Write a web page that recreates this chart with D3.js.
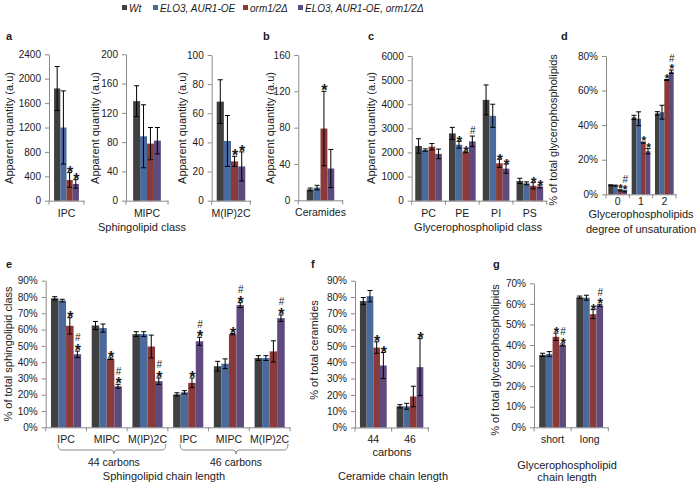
<!DOCTYPE html>
<html><head><meta charset="utf-8">
<script src="https://cdn.jsdelivr.net/npm/d3@7"></script>
<style>
body{margin:0;background:#fff}
svg{display:block}
text{font-family:Arial,"Liberation Sans",sans-serif;fill:#1a1a1a}
</style>
</head><body>
<svg id="chart" width="700" height="488"></svg>
<script>
// ---------- series ----------
const seriesNames = ["Wt", "ELO3, AUR1-OE", "orm1/2Δ", "ELO3, AUR1-OE, orm1/2Δ"];
const seriesColors = ["#404040", "#4a6a9c", "#8b3a3a", "#5e4a7c"];

// ---------- panel a : IPC ----------
const aIpcCategories = ["IPC"];
const aIpcValues = [[1840], [1200], [340], [275]];
const aIpcErrors = [[360], [600], [120], [70]];
const aIpcMarks = [[""], [""], ["*"], ["*"]];
const aIpcTicks = [0, 400, 800, 1200, 1600, 2000, 2400];

// ---------- panel a : MIPC ----------
const aMipcCategories = ["MIPC"];
const aMipcValues = [[136], [88], [78], [82]];
const aMipcErrors = [[21], [43], [22], [18]];
const aMipcMarks = [[""], [""], [""], [""]];
const aMipcTicks = [0, 40, 80, 120, 160, 200];

// ---------- panel a : M(IP)2C ----------
const aMip2cCategories = ["M(IP)2C"];
const aMip2cValues = [[68], [41], [27], [23.5]];
const aMip2cErrors = [[15], [17.5], [3.5], [10]];
const aMip2cMarks = [[""], [""], ["*"], ["*"]];
const aMip2cTicks = [0, 20, 40, 60, 80, 100];

// ---------- panel b : ceramides ----------
const bCategories = ["Ceramides"];
const bValues = [[12], [14], [79], [35]];
const bErrors = [[1.5], [2.5], [41], [21]];
const bMarks = [[""], [""], ["*"], [""]];
const bTicks = [0, 40, 80, 120, 160];

// ---------- panel c : glycerophospholipid class ----------
const cCategories = ["PC", "PE", "PI", "PS"];
const cValues = [[2270, 2790, 4180, 820], [2100, 2320, 3520, 720], [2240, 2010, 1550, 620], [1940, 2460, 1330, 590]];
const cErrors = [[300, 250, 620, 110], [50, 140, 480, 60], [130, 20, 170, 130], [200, 220, 190, 60]];
const cMarks = [["", "", "", ""], ["", "*", "", ""], ["", "*", "*", "*"], ["", "#", "*", "*"]];
const cTicks = [0, 1000, 2000, 3000, 4000, 5000, 6000];

// ---------- panel d : degree of unsaturation (%) ----------
const dCategories = ["0", "1", "2"];
const dValues = [[5.2, 44.5, 46.8], [5.0, 43.7, 47.5], [2.3, 29.9, 66.1], [1.7, 24.9, 70.9]];
const dErrors = [[0.3, 1.2, 1.0], [0.3, 4.0, 4.0], [0.3, 0.3, 0.3], [0.3, 1.5, 1.0]];
const dMarks = [["", "", ""], ["", "", ""], ["*", "*", "*"], ["*#", "*", "*#"]];
const dTicks = [0, 20, 40, 60, 80];

// ---------- panel e : sphingolipid chain length (%) ----------
const eCategories = ["IPC", "MIPC", "M(IP)2C", "IPC ", "MIPC ", "M(IP)2C "];
const eGroups = ["44 carbons", "46 carbons"];
const eValues = [
  [79.2, 62.5, 57.2, 20.2, 37.5, 42.5],
  [77.8, 60.9, 57.2, 21.5, 39.0, 42.5],
  [62.3, 42.1, 49.6, 27.3, 57.2, 46.6],
  [44.8, 25.2, 28.3, 52.8, 75.0, 67.0]];
const eErrors = [
  [1.0, 2.5, 1.5, 1.0, 3.0, 1.5],
  [0.8, 2.5, 1.5, 1.0, 3.0, 1.5],
  [5.0, 0.5, 7.0, 3.0, 0.4, 6.5],
  [2.0, 1.2, 2.0, 2.5, 1.5, 2.0]];
const eMarks = [
  ["", "", "", "", "", ""],
  ["", "", "", "", "", ""],
  ["*", "*", "", "*", "*", ""],
  ["*#", "*#", "*#", "*#", "*#", "*#"]];
const eTicks = [0, 10, 20, 30, 40, 50, 60, 70, 80, 90];

// ---------- panel f : ceramide chain length (%) ----------
const fCategories = ["44", "46"];
const fValues = [[77.5, 13.0], [80.5, 13.0], [49.0, 19.0], [38.0, 37.0]];
const fErrors = [[2.2, 1.0], [3.5, 1.8], [3.5, 6.3], [8.0, 17.5]];
const fMarks = [["", ""], ["", ""], ["*", ""], ["*", "*"]];
const fTicks = [0, 10, 20, 30, 40, 50, 60, 70, 80, 90];

// ---------- panel g : glycerophospholipid chain length (%) ----------
const gCategories = ["short", "long"];
const gValues = [[35.2, 63.2], [35.6, 63.0], [44.0, 55.0], [40.0, 59.3]];
const gErrors = [[0.8, 0.6], [1.2, 1.2], [1.8, 2.2], [0.5, 0.5]];
const gMarks = [["", ""], ["", ""], ["*", "*"], ["*#", "*#"]];
const gTicks = [0, 10, 20, 30, 40, 50, 60, 70];

// ================= drawing =================
const svg = d3.select("#chart");
const AX = "#8a8a8a";
const pct = d => d + "%";

function styleAxis(sel) {
  sel.select(".domain").attr("stroke", AX);
  sel.selectAll(".tick line").attr("stroke", AX);
  sel.selectAll(".tick text").style("font-size", "10px").attr("fill", "#1a1a1a");
}

function panel(o) {
  const g = svg.append("g");
  const n = o.cats.length;
  const starSize = o.star || 16;
  const x = d3.scaleBand().domain(o.cats).range([o.x0, o.x1]).paddingInner(o.pad).paddingOuter(o.pad / 2);
  const xs = d3.scaleBand().domain(d3.range(o.values.length)).range([0, x.bandwidth()]);
  const y = d3.scaleLinear().domain([0, o.ticks[o.ticks.length - 1]]).range([o.yBot, o.yTop]);

  const ya = g.append("g").attr("transform", `translate(${o.x0},0)`)
    .call(d3.axisLeft(y).tickValues(o.ticks).tickSize(4).tickSizeOuter(0).tickPadding(4).tickFormat(o.fmt || (d => d)));
  styleAxis(ya);

  const xa = g.append("g").attr("transform", `translate(0,${o.yBot})`)
    .call(d3.axisBottom(x).tickSize(0).tickSizeOuter(0).tickPadding(o.labPad).tickFormat(d => d.trim()));
  styleAxis(xa);
  xa.selectAll(".tick text").style("font-size", "10.5px");
  const step = (o.x1 - o.x0) / n;
  g.append("g").selectAll("line").data(d3.range(n + 1)).join("line")
    .attr("x1", i => o.x0 + i * step).attr("x2", i => o.x0 + i * step)
    .attr("y1", o.yBot).attr("y2", o.yBot + 4).attr("stroke", AX);

  o.values.forEach((ser, s) => {
    const sg = g.append("g");
    sg.selectAll("rect").data(o.cats).join("rect")
      .attr("x", (c) => x(c) + xs(s))
      .attr("width", xs.bandwidth())
      .attr("y", (c, i) => y(ser[i]))
      .attr("height", (c, i) => o.yBot - y(ser[i]))
      .attr("fill", seriesColors[s]);
  });
  o.values.forEach((ser, s) => {
    const eg = g.append("g").attr("stroke", "#000").attr("stroke-width", 1);
    o.cats.forEach((c, i) => {
      const cx = x(c) + xs(s) + xs.bandwidth() / 2;
      const hi = y(ser[i] + o.errors[s][i]);
      const lo = y(Math.max(0, ser[i] - o.errors[s][i]));
      eg.append("line").attr("x1", cx).attr("x2", cx).attr("y1", hi).attr("y2", lo);
      eg.append("line").attr("x1", cx - 2.5).attr("x2", cx + 2.5).attr("y1", hi).attr("y2", hi);
      eg.append("line").attr("x1", cx - 2.5).attr("x2", cx + 2.5).attr("y1", lo).attr("y2", lo);
      const m = o.marks[s][i];
      if (m) {
        let top = hi - 2;
        if (m.includes("*")) {
          g.append("text").attr("x", cx + 0.5).attr("y", top + starSize * 0.44).attr("text-anchor", "middle")
            .style("font-size", starSize + "px").style("font-weight", "bold").text("*");
          top -= starSize * 0.48;
        }
        if (m.includes("#")) {
          g.append("text").attr("x", cx + 0.5).attr("y", top).attr("text-anchor", "middle")
            .style("font-size", "10px").text("#");
        }
      }
    });
  });

  if (o.yTitle) {
    g.append("text").attr("transform", `translate(${o.yTitleX},${o.yTitleY}) rotate(-90)`)
      .attr("text-anchor", "middle").attr("dy", "0.35em").style("font-size", "11px").text(o.yTitle);
  }
  return { x, y, step };
}

// panel letters
[["a", 6, 40], ["b", 263, 40], ["c", 368, 40], ["d", 561, 40], ["e", 6, 268], ["f", 311, 268], ["g", 493, 268]]
  .forEach(([t, px, py]) => svg.append("text").attr("x", px).attr("y", py).style("font-size", "11px").style("font-weight", "bold").text(t));

// legend
const legX = [122, 153, 243, 298];
seriesNames.forEach((s, i) => {
  svg.append("rect").attr("x", legX[i]).attr("y", 5).attr("width", 5).attr("height", 5).attr("fill", seriesColors[i]);
  svg.append("text").attr("x", legX[i] + 7).attr("y", 11.5).style("font-size", "10px").style("font-style", "italic").text(s);
});

const YT = "Apparent quantity (a.u)";
panel({ cats: aIpcCategories, values: aIpcValues, errors: aIpcErrors, marks: aIpcMarks, ticks: aIpcTicks,
  x0: 49, x1: 84, yTop: 54.3, yBot: 200.7, pad: 0.29, labPad: 8.5, yTitle: YT, yTitleX: 9, yTitleY: 128 });
panel({ cats: aMipcCategories, values: aMipcValues, errors: aMipcErrors, marks: aMipcMarks, ticks: aMipcTicks,
  x0: 126, x1: 168, yTop: 54.3, yBot: 200.7, pad: 0.34, labPad: 8.5, yTitle: YT, yTitleX: 95, yTitleY: 128 });
panel({ cats: aMip2cCategories, values: aMip2cValues, errors: aMip2cErrors, marks: aMip2cMarks, ticks: aMip2cTicks,
  x0: 211.7, x1: 250.3, yTop: 55, yBot: 200.7, pad: 0.26, labPad: 8.5, yTitle: YT, yTitleX: 182, yTitleY: 128 });
panel({ cats: bCategories, values: bValues, errors: bErrors, marks: bMarks, ticks: bTicks,
  x0: 298.3, x1: 342.7, yTop: 55, yBot: 200.3, pad: 0.38, labPad: 8.5, yTitle: YT, yTitleX: 270, yTitleY: 128 });
panel({ cats: cCategories, values: cValues, errors: cErrors, marks: cMarks, ticks: cTicks, star: 15,
  x0: 411.7, x1: 546.7, yTop: 56, yBot: 200.7, pad: 0.21, labPad: 8.5, yTitle: YT, yTitleX: 371, yTitleY: 128 });
panel({ cats: dCategories, values: dValues, errors: dErrors, marks: dMarks, ticks: dTicks, fmt: pct, star: 12,
  x0: 606, x1: 676, yTop: 56, yBot: 194.3, pad: 0.2, labPad: 3, yTitle: "% of total glycerophospholipids", yTitleX: 553, yTitleY: 130 });
const E = panel({ cats: eCategories, values: eValues, errors: eErrors, marks: eMarks, ticks: eTicks, fmt: pct,
  x0: 45.7, x1: 290, yTop: 280.7, yBot: 427.3, pad: 0.26, labPad: 8.5, yTitle: "% of total sphingolipid class", yTitleX: 8, yTitleY: 354 });
panel({ cats: fCategories, values: fValues, errors: fErrors, marks: fMarks, ticks: fTicks, fmt: pct,
  x0: 355, x1: 428.3, yTop: 280.7, yBot: 427.5, pad: 0.27, labPad: 8.5, yTitle: "% of total ceramides", yTitleX: 314, yTitleY: 350 });
panel({ cats: gCategories, values: gValues, errors: gErrors, marks: gMarks, ticks: gTicks, fmt: pct, star: 14,
  x0: 534, x1: 608.3, yTop: 283.3, yBot: 427.3, pad: 0.28, labPad: 8.5, yTitle: "% of total glycerophospholipids", yTitleX: 495, yTitleY: 360 });

// braces under panel e
eGroups.forEach((lab, k) => {
  const left = 45.7 + k * 3 * E.step + 0.3 * E.step;
  const right = 45.7 + (k + 1) * 3 * E.step - 0.05 * E.step;
  const mid = (left + right) / 2 + 2;
  const yl = 450;
  svg.append("path")
    .attr("d", `M${left},${yl - 6} Q${left},${yl} ${left + 4},${yl} L${mid - 3},${yl} Q${mid},${yl} ${mid},${yl + 4} Q${mid},${yl} ${mid + 3},${yl} L${right - 4},${yl} Q${right},${yl} ${right},${yl - 6}`)
    .attr("fill", "none").attr("stroke", AX);
  svg.append("text").attr("x", mid).attr("y", 466).attr("text-anchor", "middle").style("font-size", "10.5px").text(lab);
});

// axis titles
const titles = [
  ["Sphingolipid class", 142, 231],
  ["Glycerophospholipid class", 478, 231],
  ["Glycerophospholipids", 641, 218],
  ["degree of unsaturation", 641, 233],
  ["Sphingolipid chain length", 164, 480],
  ["carbons", 392, 456],
  ["Ceramide chain length", 393, 480],
  ["Glycerophospholipid", 567, 469],
  ["chain length", 567, 481]
];
titles.forEach(([t, tx, ty]) => svg.append("text").attr("x", tx).attr("y", ty).attr("text-anchor", "middle").style("font-size", "11px").text(t));
</script>
</body></html>
